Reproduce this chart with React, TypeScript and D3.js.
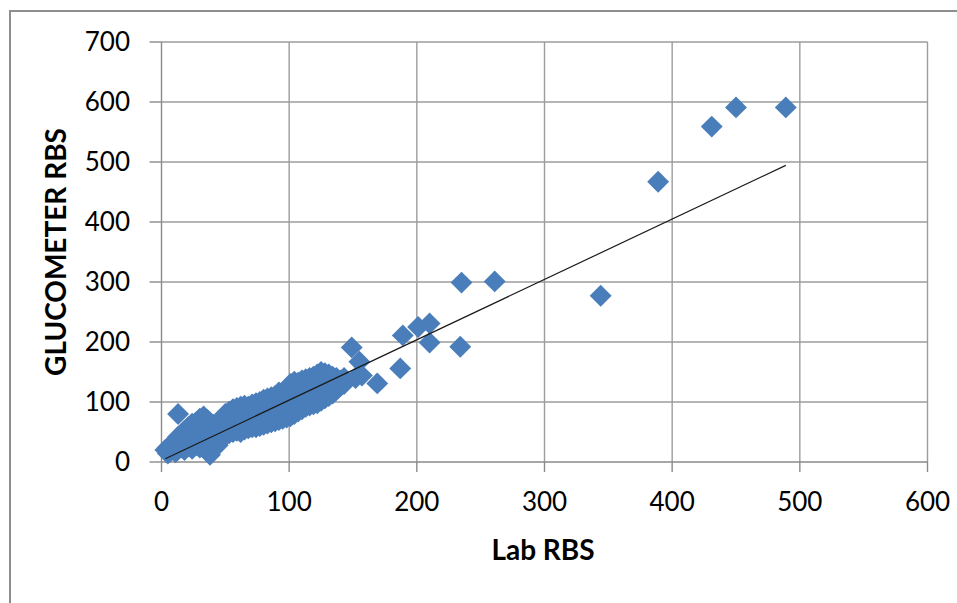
import React, {useEffect, useRef} from "react";
import * as d3 from "d3";

const labRbs = [
    3, 5, 5, 7, 7, 9, 9, 11, 11, 11,
    13, 13, 13, 13, 16, 16, 16, 18, 18, 18, 18,
    21, 21, 21, 21, 24, 24, 24, 24, 24, 27, 27, 27, 27,
    30, 30, 30, 30, 30, 33, 33, 33, 33, 33, 36, 36, 36, 36, 36,
    38, 38, 38, 38, 41, 41, 41, 41, 44, 44, 44, 44, 44,
    47, 47, 47, 47, 50, 50, 50, 50, 53, 53, 53, 53, 56, 56, 56, 56,
    59, 59, 59, 59, 62, 62, 62, 62, 62, 65, 65, 65, 65, 68, 68, 68, 68,
    71, 71, 71, 71, 74, 74, 74, 74, 77, 77, 77, 77, 80, 80, 80, 80,
    83, 83, 83, 83, 86, 86, 86, 86, 89, 89, 89, 89, 92, 92, 92, 92, 92,
    95, 95, 95, 95, 98, 98, 98, 98, 101, 101, 101, 101, 101,
    104, 104, 104, 104, 104, 107, 107, 107, 107, 110, 110, 110, 110,
    113, 113, 113, 113, 116, 116, 116, 116, 119, 119, 119, 119,
    122, 122, 122, 122, 125, 125, 125, 125, 128, 128, 128, 128,
    131, 131, 131, 131, 134, 134, 134, 137, 137, 137, 140, 140, 143, 143,
    149, 152, 155, 157, 169,
    187, 189, 201, 210, 210, 234, 235, 261, 344, 389, 431, 450, 489
];
const glucometerRbs = [
    20, 14, 24, 18, 28, 22, 30, 16, 26, 36,
    80, 22, 32, 42, 24, 34, 46, 20, 30, 40, 52,
    26, 38, 50, 58, 22, 32, 44, 56, 64, 28, 40, 52, 66,
    24, 36, 48, 60, 72, 30, 42, 54, 66, 76, 26, 38, 50, 62, 70,
    12, 44, 56, 66, 30, 40, 52, 62, 28, 36, 48, 60, 66,
    38, 50, 62, 72, 44, 56, 68, 80, 48, 60, 72, 84, 50, 62, 76, 88,
    52, 64, 78, 90, 50, 60, 72, 86, 92, 54, 66, 80, 94, 56, 68, 82, 92,
    58, 70, 84, 96, 58, 72, 86, 98, 60, 74, 88, 100, 62, 76, 90, 104,
    64, 78, 92, 106, 66, 80, 94, 108, 68, 82, 96, 110, 70, 84, 98, 112, 116,
    72, 86, 100, 114, 74, 88, 102, 118, 76, 90, 106, 122, 130,
    80, 94, 110, 128, 134, 84, 98, 114, 132, 88, 102, 118, 136,
    92, 106, 122, 138, 94, 108, 124, 140, 96, 110, 126, 142,
    98, 112, 128, 146, 102, 116, 132, 150, 106, 120, 136, 148,
    110, 124, 140, 146, 114, 128, 142, 120, 132, 140, 126, 136, 130, 140,
    191, 140, 167, 144, 131,
    156, 211, 225, 231, 199, 192, 299, 301, 277, 467, 559, 591, 591
];

const xTicks = [0, 100, 200, 300, 400, 500, 600];
const yTicks = [0, 100, 200, 300, 400, 500, 600, 700];

// linear trend line as drawn (slope, intercept)
const trendSlope = 1.006;
const trendIntercept = 2.5;

const W = 957, H = 603;
const margin = {left: 161.5, right: W - 927.5, top: 42, bottom: H - 462};
const font = "Lato, 'Open Sans', sans-serif";

function drawChart(node: SVGSVGElement){
    const svg = d3.select(node);
    svg.selectAll("*").remove();

    svg.append("rect").attr("width", W).attr("height", H).attr("fill", "#ffffff");
    // outer chart frame, runs off the right and bottom
    svg.append("rect")
        .attr("x", 10).attr("y", 11)
        .attr("width", W + 20).attr("height", H + 20)
        .attr("fill", "none")
        .attr("stroke", "#8e8e8e")
        .attr("stroke-width", 2);

    const x = d3.scaleLinear().domain([0, 600]).range([margin.left, W - margin.right]);
    const y = d3.scaleLinear().domain([0, 700]).range([H - margin.bottom, margin.top]);

    const grid = svg.append("g").attr("stroke", "#9c9c9c").attr("stroke-width", 1.4);
    grid.selectAll(".hg")
        .data(yTicks.filter(d => d > 0))
        .enter().append("line")
            .attr("x1", x(0)).attr("x2", x(600))
            .attr("y1", d => y(d)).attr("y2", d => y(d));
    grid.selectAll(".vg")
        .data(xTicks.filter(d => d > 0))
        .enter().append("line")
            .attr("x1", d => x(d)).attr("x2", d => x(d))
            .attr("y1", y(0)).attr("y2", y(700));

    // axes lines and tick marks
    const ax = svg.append("g").attr("stroke", "#8a8a8a").attr("stroke-width", 1.4);
    ax.append("line").attr("x1", x(0)).attr("x2", x(0)).attr("y1", y(0)).attr("y2", y(700));
    ax.append("line").attr("x1", x(0)).attr("x2", x(600)).attr("y1", y(0)).attr("y2", y(0));
    ax.selectAll(".yt").data(yTicks).enter().append("line")
        .attr("x1", x(0) - 12).attr("x2", x(0))
        .attr("y1", d => y(d)).attr("y2", d => y(d));
    ax.selectAll(".xt").data(xTicks).enter().append("line")
        .attr("x1", d => x(d)).attr("x2", d => x(d))
        .attr("y1", y(0)).attr("y2", y(0) + 10);

    svg.append("g").selectAll("text").data(yTicks).enter().append("text")
        .attr("x", 130)
        .attr("y", d => y(d) + 9)
        .attr("text-anchor", "end")
        .style("font-family", font).style("font-size", "26px").attr("fill", "#000")
        .text(d => d);
    svg.append("g").selectAll("text").data(xTicks).enter().append("text")
        .attr("x", d => x(d))
        .attr("y", 511)
        .attr("text-anchor", "middle")
        .style("font-family", font).style("font-size", "26px").attr("fill", "#000")
        .text(d => d);

    svg.append("text")
        .attr("x", 543).attr("y", 560)
        .attr("text-anchor", "middle")
        .style("font-family", font).style("font-size", "28px").style("font-weight", "bold")
        .text("Lab RBS");
    svg.append("text")
        .attr("transform", "translate(66,252) rotate(-90)")
        .attr("text-anchor", "middle")
        .style("font-family", font).style("font-size", "28px").style("font-weight", "bold")
        .text("GLUCOMETER RBS");

    const diamond = d3.symbol().type(d3.symbolSquare).size(240);
    svg.append("g").selectAll("path")
        .data(d3.range(labRbs.length))
        .enter().append("path")
            .attr("d", diamond)
            .attr("transform", i => `translate(${x(labRbs[i])},${y(glucometerRbs[i])}) rotate(45)`)
            .attr("fill", "#4a7ebb");

    const xMin = d3.min(labRbs) as number, xMax = d3.max(labRbs) as number;
    svg.append("line")
        .attr("x1", x(xMin)).attr("y1", y(trendSlope * xMin + trendIntercept))
        .attr("x2", x(xMax)).attr("y2", y(trendSlope * xMax + trendIntercept))
        .attr("stroke", "#1a1a1a")
        .attr("stroke-width", 1.2);
}

export default function App(){
    const ref = useRef<SVGSVGElement>(null);
    useEffect(() => { if(ref.current) drawChart(ref.current); });
    return <svg ref={ref} width={W} height={H}
                style={{position: "absolute", left: 0, top: 0, display: "block"}}></svg>;
}
